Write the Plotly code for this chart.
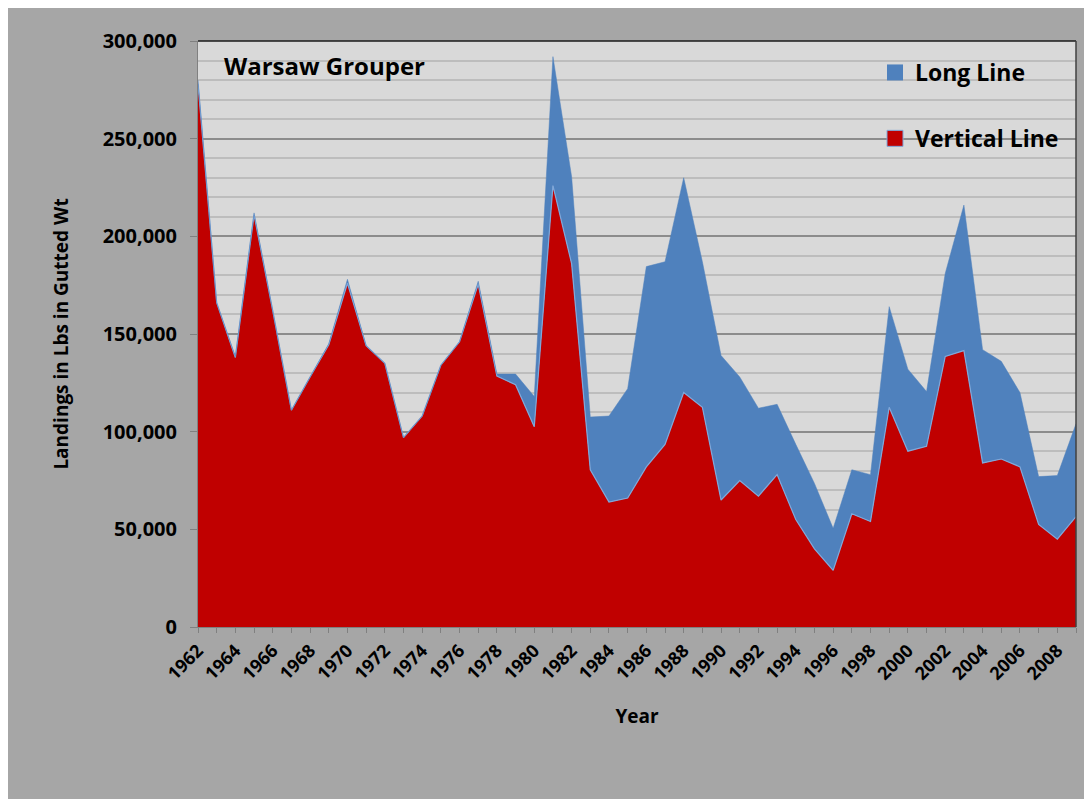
import plotly.graph_objects as go

years = list(range(1962, 2010))
vertical_line = [278000, 166000, 138000, 211000, 162000, 111000, 128000, 144500,
                 176000, 144000, 135000, 97000, 108000, 134000, 146000, 175500,
                 128500, 124000, 102500, 226000, 186000, 80500, 64000, 66000,
                 82000, 93500, 120000, 112500, 65000, 75000, 67000, 78000,
                 55000, 40000, 29000, 58000, 54000, 112500, 90000, 92500,
                 138500, 141500, 84000, 86000, 82000, 52500, 45000, 56500]
long_line = [2000, 0, 500, 1000, 0, 0, 0, 500,
             2000, 0, 0, 0, 0, 0, 0, 1500,
             1000, 5500, 15500, 66000, 44500, 27000, 44000, 56000,
             102500, 93500, 110000, 74500, 74000, 53000, 45000, 36000,
             38500, 33500, 21500, 22500, 24000, 51500, 42000, 28000,
             42500, 74500, 58000, 50000, 38000, 24500, 32500, 47500]
tick_years = list(range(1962, 2009, 2))
y_ticks = [0, 50000, 100000, 150000, 200000, 250000, 300000]

RED = "#C00000"
BLUE = "#4F81BD"
EDGE = "#7FA8DA"
FONT = "Open Sans"

# page has an 8px body margin; figure coordinates are page coordinates - 8
OFF = 8
W, H = 1084, 791
L, T = 190, 33
PW, PH = 878, 586
R, B = W - L - PW, H - T - PH


def px_x(p):
    return (p - OFF - L) / PW


def px_y(p):
    return (T + PH - (p - OFF)) / PH


fig = go.Figure()
fig.add_trace(go.Scatter(
    x=years, y=vertical_line, name="Vertical Line", stackgroup="one",
    mode="lines", line=dict(color=EDGE, width=1.2), fillcolor=RED,
    showlegend=False, hoverinfo="x+y"))
fig.add_trace(go.Scatter(
    x=years, y=long_line, name="Long Line", stackgroup="one",
    mode="lines", line=dict(color=BLUE, width=0.5), fillcolor=BLUE,
    showlegend=False, hoverinfo="x+y"))

# legend entries (Long Line listed first)
fig.add_trace(go.Scatter(
    x=[None], y=[None], name="Long Line", mode="markers", legendgroup="l",
    marker=dict(symbol="square", size=18, color=BLUE, line=dict(width=0))))
fig.add_trace(go.Scatter(
    x=[None], y=[None], name="Vertical Line", mode="markers", legendgroup="v",
    marker=dict(symbol="square", size=18, color=RED, line=dict(color=EDGE, width=1))))

fig.update_layout(
    width=W, height=H,
    margin=dict(l=L, r=R, t=T, b=B, pad=0),
    paper_bgcolor="#A6A6A6",
    plot_bgcolor="#D9D9D9",
    font=dict(family=FONT, color="black"),
    legend=dict(
        x=px_x(875), y=px_y(51), xanchor="left", yanchor="top",
        bgcolor="rgba(0,0,0,0)", traceorder="grouped",
        tracegroupgap=33,
        font=dict(family=FONT, size=23, color="black", weight="bold"),
    ),
    xaxis=dict(
        range=[1962, 2009], tickmode="array", tickvals=tick_years,
        ticktext=[str(y) for y in tick_years], tickangle=-45,
        tickfont=dict(family=FONT, size=18, weight="bold"),
        ticks="outside", ticklen=5, tickcolor="#808080",
        showgrid=False, zeroline=False,
        showline=True, linecolor="#808080", linewidth=1,
        minor=dict(dtick=1, tick0=1962, ticks="outside", ticklen=5,
                   tickcolor="#808080", showgrid=False),
        title=dict(text="Year", font=dict(family=FONT, size=19, weight="bold"),
                   standoff=26),
    ),
    yaxis=dict(
        range=[0, 300000], tickmode="array", tickvals=y_ticks,
        ticktext=[f"{v:,}" for v in y_ticks],
        tickfont=dict(family=FONT, size=20, weight="bold"),
        ticks="outside", ticklen=7, tickcolor="#808080",
        ticklabelstandoff=9,
        showgrid=True, gridcolor="#8C8C8C", gridwidth=1.5,
        zeroline=False, showline=True, linecolor="#808080", linewidth=1,
        minor=dict(dtick=10000, tick0=0, showgrid=True, gridcolor="#BDBDBD",
                   gridwidth=1.5, ticks=""),
        title=dict(text="Landings in Lbs in Gutted Wt",
                   font=dict(family=FONT, size=19, weight="bold"), standoff=29),
    ),
    shapes=[
        dict(type="line", xref="paper", yref="paper", x0=0, x1=1, y0=1, y1=1,
             line=dict(color="#1A1A1A", width=1.5), layer="above"),
        dict(type="line", xref="paper", yref="paper", x0=1, x1=1, y0=0, y1=1,
             line=dict(color="#404040", width=1.5), layer="above"),
    ],
    annotations=[
        dict(text="Warsaw Grouper", xref="paper", yref="paper",
             x=px_x(222), y=px_y(66), xanchor="left", yanchor="middle",
             showarrow=False, font=dict(family=FONT, size=24, color="black", weight="bold")),
    ],
)

fig.write_html("out.html")
